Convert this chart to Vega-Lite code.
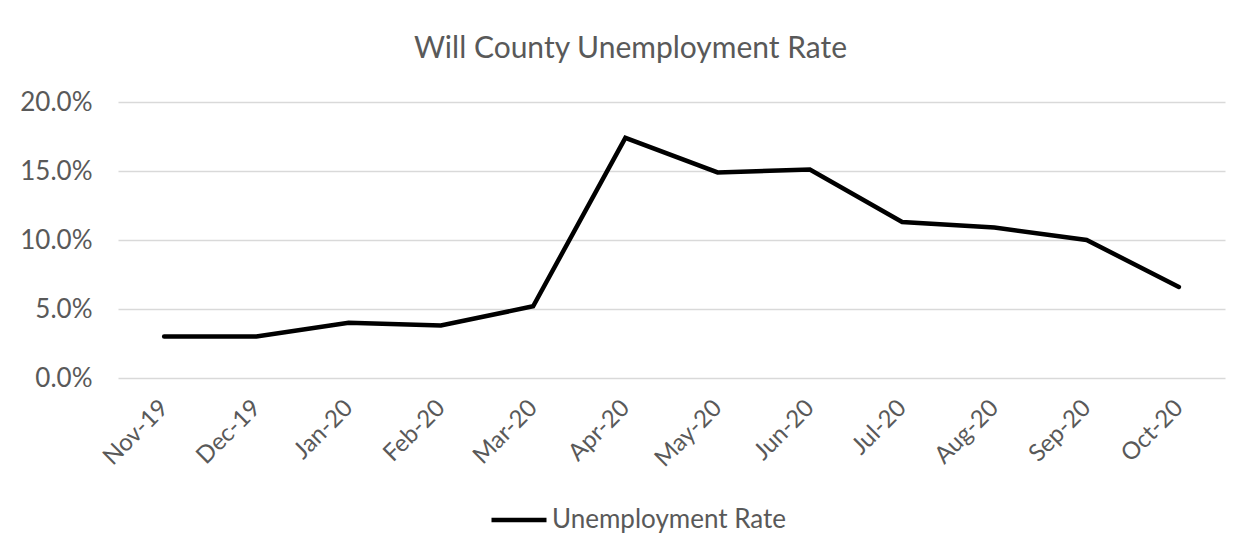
{
  "$schema": "https://vega.github.io/schema/vega-lite/v6.json",
  "autosize": "none",
  "width": 1107,
  "height": 276,
  "padding": {"left": 118, "top": 102, "right": 25, "bottom": 174},
  "background": "white",
  "title": {
    "text": "Will County Unemployment Rate",
    "font": "Lato",
    "fontSize": 30,
    "fontWeight": "normal",
    "color": "#595959",
    "anchor": "middle",
    "frame": "group",
    "dx": -41,
    "offset": 25
  },
  "data": {
    "values": [
      {"month": "Nov-19", "rate": 0.030},
      {"month": "Dec-19", "rate": 0.030},
      {"month": "Jan-20", "rate": 0.040},
      {"month": "Feb-20", "rate": 0.038},
      {"month": "Mar-20", "rate": 0.052},
      {"month": "Apr-20", "rate": 0.174},
      {"month": "May-20", "rate": 0.149},
      {"month": "Jun-20", "rate": 0.151},
      {"month": "Jul-20", "rate": 0.113},
      {"month": "Aug-20", "rate": 0.109},
      {"month": "Sep-20", "rate": 0.100},
      {"month": "Oct-20", "rate": 0.066}
    ]
  },
  "mark": {"type": "line", "strokeWidth": 4.5, "strokeCap": "round", "strokeJoin": "miter"},
  "encoding": {
    "x": {
      "field": "month",
      "type": "ordinal",
      "sort": null,
      "title": null,
      "scale": {"type": "point", "padding": 0.5},
      "axis": {
        "domain": false,
        "ticks": false,
        "grid": false,
        "labelAngle": -45,
        "labelAlign": "right",
        "labelBaseline": "middle",
        "labelPadding": 26,
        "labelFont": "Lato",
        "labelFontSize": 24,
        "labelColor": "#595959"
      }
    },
    "y": {
      "field": "rate",
      "type": "quantitative",
      "title": null,
      "scale": {"domain": [0, 0.2], "nice": false},
      "axis": {
        "values": [0, 0.05, 0.1, 0.15, 0.2],
        "format": ".1%",
        "domain": false,
        "ticks": false,
        "grid": true,
        "gridColor": "#d9d9d9",
        "gridWidth": 1.5,
        "labelPadding": 26,
        "labelFont": "Lato",
        "labelFontSize": 26,
        "labelColor": "#595959"
      }
    },
    "color": {
      "datum": "Unemployment Rate",
      "scale": {"range": ["#000000"]},
      "legend": {
        "title": null,
        "orient": "none",
        "legendX": 371,
        "legendY": 388,
        "symbolType": "stroke",
        "symbolSize": 3025,
        "symbolStrokeWidth": 4.5,
        "symbolStrokeColor": "#000000",
        "labelOffset": 3,
        "labelLimit": 0,
        "labelFont": "Lato",
        "labelFontSize": 26,
        "labelColor": "#595959"
      }
    }
  },
  "config": {"view": {"stroke": null}}
}
